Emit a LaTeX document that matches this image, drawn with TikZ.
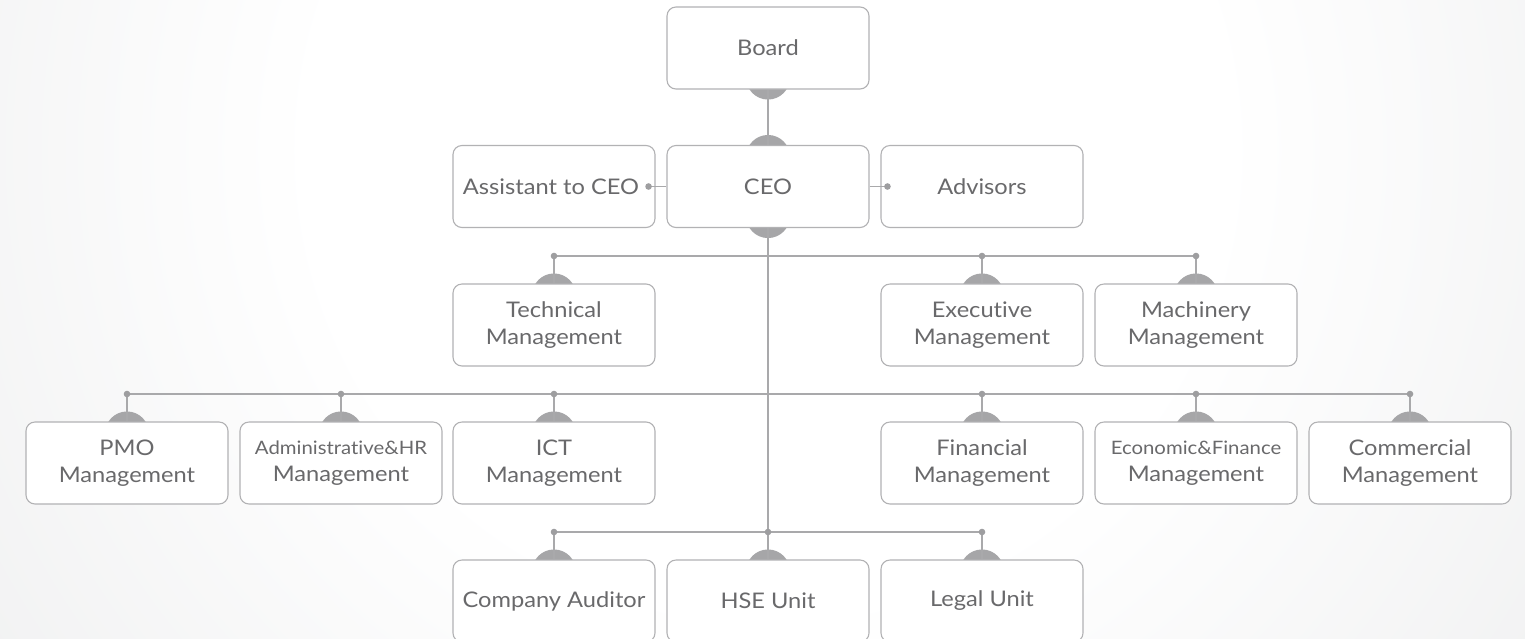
\documentclass[tikz,border=0pt]{standalone}
\usepackage{fontspec}
\setmainfont{Lato}[FakeStretch=1.1, Ligatures={NoCommon}]
\definecolor{bggray}{HTML}{D6D7D9}
\definecolor{segc}{HTML}{A6A6A8}
\definecolor{lin}{HTML}{A9A9AB}
\definecolor{dotc}{HTML}{9E9EA0}
\definecolor{boxline}{HTML}{B2B2B4}
\definecolor{txt}{HTML}{69696B}
\pgfdeclarelayer{back}
\pgfdeclarelayer{seg}
\pgfsetlayers{back,seg,main}
\pgfdeclareradialshading{bgsh}{\pgfpoint{0bp}{0bp}}{color(0bp)=(white); color(12bp)=(white); color(50bp)=(bggray)}
\begin{document}
\begin{tikzpicture}[x=1pt,y=-1pt,
  box/.style={draw=boxline, line width=1.1pt, fill=white, rounded corners=9pt,
    minimum width=202pt, minimum height=82pt, inner sep=0pt, align=center,
    text=txt, font=\fontsize{21.5}{27}\selectfont},
  conn/.style={draw=lin, line width=1.8pt},
  bus/.style={draw=lin, line width=2.2pt},
  trunk/.style={draw=lin, line width=1.5pt},
  dot/.style={fill=dotc}]
\useasboundingbox (0,0) rectangle (1525,638);
\begin{pgfonlayer}{back}
  \begin{scope}
    \clip (0,0) rectangle (1525,638);
    \fill[bggray] (0,0) rectangle (1525,638);
    \shade[shading=bgsh] (768,150) circle (950pt);
  \end{scope}
\end{pgfonlayer}

% nodes
\node[box] (board) at (768,48) {Board};
\node[box] (ceo) at (768,186.5) {CEO};
\node[box] (asst) at (554,186.5) {Assistant to CEO\hspace*{6pt}};
\node[box] (adv) at (982,186.5) {Advisors};

\node[box] (tech) at (554,325) {Technical\\Management};
\node[box] (exec) at (982,325) {Executive\\Management};
\node[box] (mach) at (1196,325) {Machinery\\Management};

\node[box] (pmo) at (127,463) {PMO\\Management};
\node[box] (admin) at (341,463) {{\fontsize{18.5}{26}\selectfont Administrative\&HR}\\Management};
\node[box] (ict) at (554,463) {ICT\\Management};
\node[box] (fin) at (982,463) {Financial\\Management};
\node[box] (econ) at (1196,463) {{\fontsize{18.5}{26}\selectfont Economic\&Finance}\\Management};
\node[box] (comm) at (1410,463) {Commercial\\Management};

\node[box] (aud) at (554,601) {Company Auditor};
\node[box] (hse) at (768,601) {HSE Unit};
\node[box] (legal) at (982,601) {Legal Unit};

\coordinate (bus1) at (768,256);
\coordinate (bus2) at (768,394);
\coordinate (bus3) at (768,532);

\begin{pgfonlayer}{seg}
  \foreach \n in {ceo,tech,exec,mach,pmo,admin,ict,fin,econ,comm,aud,hse,legal}
    \fill[segc] ([yshift=-12pt]\n.north) circle (22pt);
  \foreach \n in {board,ceo}
    \fill[segc] ([yshift=12pt]\n.south) circle (22pt);
  \draw[trunk] (board.south) -- (ceo.north);
  \draw[trunk] (ceo.south) -- (hse.north);
  % bus 1
  \draw[bus] (tech.north |- bus1) -- (mach.north |- bus1);
  \foreach \n in {tech,exec,mach}
    \draw[conn] (\n.north |- bus1) -- (\n.north);
  \foreach \n in {tech,exec,mach}
    \fill[dot] (\n.north |- bus1) circle (3.3pt);
  % bus 2
  \draw[bus] (pmo.north |- bus2) -- (comm.north |- bus2);
  \foreach \n in {pmo,admin,ict,fin,econ,comm}
    \draw[conn] (\n.north |- bus2) -- (\n.north);
  \foreach \n in {pmo,admin,ict,fin,econ,comm}
    \fill[dot] (\n.north |- bus2) circle (3.3pt);
  % bus 3
  \draw[bus] (aud.north |- bus3) -- (legal.north |- bus3);
  \foreach \n in {aud,legal}
    \draw[conn] (\n.north |- bus3) -- (\n.north);
  \foreach \n in {aud,hse,legal}
    \fill[dot] (\n.north |- bus3) circle (3.3pt);
\end{pgfonlayer}

% side connectors
\coordinate (asstdot) at ([xshift=-7pt]asst.east);
\coordinate (advdot) at ([xshift=7pt]adv.west);
\draw[conn] (ceo.west) -- (asstdot);
\fill[dot] (asstdot) circle (3.3pt);
\draw[conn] (ceo.east) -- (advdot);
\fill[dot] (advdot) circle (3.3pt);
\end{tikzpicture}
\end{document}
